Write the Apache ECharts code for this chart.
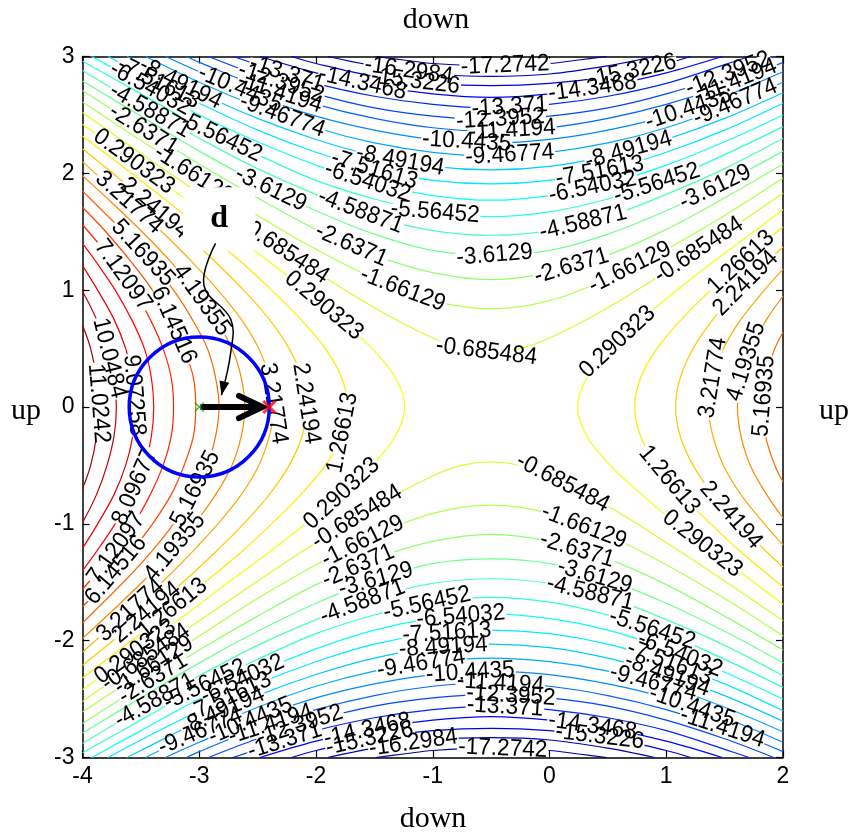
<!DOCTYPE html>
<html>
<head>
<meta charset="utf-8">
<script src="https://cdn.jsdelivr.net/npm/echarts@6/dist/echarts.min.js"></script>
<style>
html,body{margin:0;padding:0;background:#fff;}
#chart{width:851px;height:836px;}
</style>
</head>
<body>
<div id="chart"></div>
<script>
// Contour levels of the surface (30 levels, labelled inline)
const levels = [-17.2742, -16.2984, -15.3226, -14.3468, -13.371, -12.3952, -11.4194, -10.4435,
  -9.46774, -8.49194, -7.51613, -6.54032, -5.56452, -4.58871, -3.6129, -2.6371, -1.66129, -0.685484,
  0.290323, 1.26613, 2.24194, 3.21774, 4.19355, 5.16935, 6.14516, 7.12097, 8.09677, 9.07258, 10.0484, 11.0242];

// Colour limits of the jet colour scale
const colorMin = -18.25, colorMax = 12;

// Upper branches of the 18 negative levels (left to right)
const upperArcs = [
  [[-1.49,3],[-1.25,2.97],[-1,2.94],[-0.5,2.92],[0,2.94],[0.25,2.97],[0.49,3]],
  [[-1.90,3],[-1.5,2.92],[-1,2.85],[-0.5,2.83],[0,2.85],[0.5,2.92],[0.90,3]],
  [[-2.21,3],[-2,2.94],[-1.5,2.83],[-1,2.77],[-0.5,2.75],[0,2.77],[0.5,2.83],[1,2.94],[1.21,3]],
  [[-2.48,3],[-2,2.86],[-1.5,2.75],[-1,2.68],[-0.5,2.65],[0,2.68],[0.5,2.75],[1,2.86],[1.48,3]],
  [[-2.71,3],[-2.5,2.93],[-2,2.77],[-1.5,2.66],[-1,2.59],[-0.5,2.56],[0,2.59],[0.5,2.66],[1,2.77],[1.5,2.93],[1.71,3]],
  [[-2.92,3],[-2.5,2.84],[-2,2.68],[-1.5,2.56],[-1,2.49],[-0.5,2.46],[0,2.49],[0.5,2.56],[1,2.68],[1.5,2.84],[1.92,3]],
  [[-3.11,3],[-3,2.95],[-2.5,2.75],[-2,2.59],[-1.5,2.47],[-1,2.39],[-0.5,2.36],[0,2.39],[0.5,2.47],[1,2.59],[1.5,2.75],[2,2.95]],
  [[-3.29,3],[-3,2.87],[-2.5,2.66],[-2,2.49],[-1.5,2.37],[-1,2.29],[-0.5,2.26],[0,2.29],[0.5,2.37],[1,2.49],[1.5,2.66],[2,2.87]],
  [[-3.46,3],[-3,2.78],[-2.5,2.57],[-2,2.39],[-1.5,2.26],[-1,2.18],[-0.5,2.15],[0,2.18],[0.5,2.26],[1,2.39],[1.5,2.57],[2,2.78]],
  [[-3.62,3],[-3.5,2.94],[-3,2.69],[-2.5,2.47],[-2,2.29],[-1.5,2.15],[-1,2.06],[-0.5,2.03],[0,2.06],[0.5,2.15],[1,2.29],[1.5,2.47],[2,2.69]],
  [[-3.78,3],[-3.5,2.85],[-3,2.60],[-2.5,2.37],[-2,2.18],[-1.5,2.03],[-1,1.94],[-0.5,1.91],[0,1.94],[0.5,2.03],[1,2.18],[1.5,2.37],[2,2.60]],
  [[-3.92,3],[-3.5,2.77],[-3,2.50],[-2.5,2.27],[-2,2.07],[-1.5,1.91],[-1,1.81],[-0.5,1.77],[0,1.81],[0.5,1.91],[1,2.07],[1.5,2.27],[2,2.50]],
  [[-4,2.96],[-3.5,2.68],[-3,2.40],[-2.5,2.16],[-2,1.94],[-1.5,1.78],[-1,1.67],[-0.5,1.63],[0,1.67],[0.5,1.78],[1,1.94],[1.5,2.16],[2,2.40]],
  [[-4,2.88],[-3.5,2.58],[-3,2.30],[-2.5,2.04],[-2,1.82],[-1.5,1.63],[-1,1.51],[-0.5,1.47],[0,1.51],[0.5,1.63],[1,1.82],[1.5,2.04],[2,2.30]],
  [[-4,2.79],[-3.5,2.49],[-3,2.19],[-2.5,1.92],[-2,1.68],[-1.5,1.48],[-1,1.34],[-0.5,1.30],[0,1.34],[0.5,1.48],[1,1.68],[1.5,1.92],[2,2.19]],
  [[-4,2.71],[-3.5,2.39],[-3,2.08],[-2.5,1.79],[-2,1.52],[-1.5,1.30],[-1,1.15],[-0.5,1.09],[0,1.15],[0.5,1.30],[1,1.52],[1.5,1.79],[2,2.08]],
  [[-4,2.61],[-3.5,2.28],[-3,1.96],[-2.5,1.64],[-2,1.35],[-1.5,1.10],[-1,0.91],[-0.5,0.84],[0,0.91],[0.5,1.10],[1,1.35],[1.5,1.64],[2,1.96]],
  [[-4,2.52],[-3.5,2.17],[-3,1.83],[-2.5,1.49],[-2,1.16],[-1.5,0.85],[-1,0.59],[-0.75,0.50],[-0.5,0.47],[-0.25,0.50],[0,0.59],[0.5,0.85],[1,1.16],[1.5,1.49],[2,1.83]]
];

// Lower branches of the same 18 levels (left to right)
const lowerArcs = [
  [[-1.49,-3],[-1.25,-2.97],[-1,-2.94],[-0.5,-2.92],[0,-2.94],[0.25,-2.97],[0.49,-3]],
  [[-1.90,-3],[-1.5,-2.92],[-1,-2.85],[-0.5,-2.83],[0,-2.85],[0.5,-2.92],[0.90,-3]],
  [[-2.21,-3],[-2,-2.94],[-1.5,-2.83],[-1,-2.77],[-0.5,-2.75],[0,-2.77],[0.5,-2.83],[1,-2.94],[1.21,-3]],
  [[-2.48,-3],[-2,-2.86],[-1.5,-2.75],[-1,-2.68],[-0.5,-2.65],[0,-2.68],[0.5,-2.75],[1,-2.86],[1.48,-3]],
  [[-2.71,-3],[-2.5,-2.93],[-2,-2.77],[-1.5,-2.66],[-1,-2.59],[-0.5,-2.56],[0,-2.59],[0.5,-2.66],[1,-2.77],[1.5,-2.93],[1.71,-3]],
  [[-2.92,-3],[-2.5,-2.84],[-2,-2.68],[-1.5,-2.56],[-1,-2.49],[-0.5,-2.46],[0,-2.49],[0.5,-2.56],[1,-2.68],[1.5,-2.84],[1.92,-3]],
  [[-3.11,-3],[-3,-2.95],[-2.5,-2.75],[-2,-2.59],[-1.5,-2.47],[-1,-2.39],[-0.5,-2.36],[0,-2.39],[0.5,-2.47],[1,-2.59],[1.5,-2.75],[2,-2.95]],
  [[-3.29,-3],[-3,-2.87],[-2.5,-2.66],[-2,-2.49],[-1.5,-2.37],[-1,-2.29],[-0.5,-2.26],[0,-2.29],[0.5,-2.37],[1,-2.49],[1.5,-2.66],[2,-2.87]],
  [[-3.46,-3],[-3,-2.78],[-2.5,-2.57],[-2,-2.39],[-1.5,-2.26],[-1,-2.18],[-0.5,-2.15],[0,-2.18],[0.5,-2.26],[1,-2.39],[1.5,-2.57],[2,-2.78]],
  [[-3.62,-3],[-3.5,-2.94],[-3,-2.69],[-2.5,-2.47],[-2,-2.29],[-1.5,-2.15],[-1,-2.06],[-0.5,-2.03],[0,-2.06],[0.5,-2.15],[1,-2.29],[1.5,-2.47],[2,-2.69]],
  [[-3.78,-3],[-3.5,-2.85],[-3,-2.60],[-2.5,-2.37],[-2,-2.18],[-1.5,-2.03],[-1,-1.94],[-0.5,-1.91],[0,-1.94],[0.5,-2.03],[1,-2.18],[1.5,-2.37],[2,-2.60]],
  [[-3.92,-3],[-3.5,-2.77],[-3,-2.50],[-2.5,-2.27],[-2,-2.07],[-1.5,-1.91],[-1,-1.81],[-0.5,-1.77],[0,-1.81],[0.5,-1.91],[1,-2.07],[1.5,-2.27],[2,-2.50]],
  [[-4,-2.96],[-3.5,-2.68],[-3,-2.40],[-2.5,-2.16],[-2,-1.94],[-1.5,-1.78],[-1,-1.67],[-0.5,-1.63],[0,-1.67],[0.5,-1.78],[1,-1.94],[1.5,-2.16],[2,-2.40]],
  [[-4,-2.88],[-3.5,-2.58],[-3,-2.30],[-2.5,-2.04],[-2,-1.82],[-1.5,-1.63],[-1,-1.51],[-0.5,-1.47],[0,-1.51],[0.5,-1.63],[1,-1.82],[1.5,-2.04],[2,-2.30]],
  [[-4,-2.79],[-3.5,-2.49],[-3,-2.19],[-2.5,-1.92],[-2,-1.68],[-1.5,-1.48],[-1,-1.34],[-0.5,-1.30],[0,-1.34],[0.5,-1.48],[1,-1.68],[1.5,-1.92],[2,-2.19]],
  [[-4,-2.71],[-3.5,-2.39],[-3,-2.08],[-2.5,-1.79],[-2,-1.52],[-1.5,-1.30],[-1,-1.15],[-0.5,-1.09],[0,-1.15],[0.5,-1.30],[1,-1.52],[1.5,-1.79],[2,-2.08]],
  [[-4,-2.61],[-3.5,-2.28],[-3,-1.96],[-2.5,-1.64],[-2,-1.35],[-1.5,-1.10],[-1,-0.91],[-0.5,-0.84],[0,-0.91],[0.5,-1.10],[1,-1.35],[1.5,-1.64],[2,-1.96]],
  [[-4,-2.52],[-3.5,-2.17],[-3,-1.83],[-2.5,-1.49],[-2,-1.16],[-1.5,-0.85],[-1,-0.59],[-0.75,-0.50],[-0.5,-0.47],[-0.25,-0.50],[0,-0.59],[0.5,-0.85],[1,-1.16],[1.5,-1.49],[2,-1.83]]
];

// Left branches of the 12 positive levels (bottom to top)
const leftArcs = [
  [[-4,-2.42],[-3.42,-2],[-3.08,-1.75],[-2.75,-1.5],[-2.41,-1.25],[-2.09,-1],[-1.79,-0.75],[-1.52,-0.5],[-1.32,-0.25],[-1.24,0],[-1.32,0.25],[-1.52,0.5],[-1.79,0.75],[-2.09,1],[-2.41,1.25],[-2.75,1.5],[-3.08,1.75],[-3.42,2],[-4,2.42]],
  [[-4,-2.32],[-3.58,-2],[-3.26,-1.75],[-2.95,-1.5],[-2.65,-1.25],[-2.38,-1],[-2.13,-0.75],[-1.92,-0.5],[-1.78,-0.25],[-1.73,0],[-1.78,0.25],[-1.92,0.5],[-2.13,0.75],[-2.38,1],[-2.65,1.25],[-2.95,1.5],[-3.26,1.75],[-3.58,2],[-4,2.32]],
  [[-4,-2.21],[-3.74,-2],[-3.44,-1.75],[-3.14,-1.5],[-2.87,-1.25],[-2.62,-1],[-2.40,-0.75],[-2.23,-0.5],[-2.12,-0.25],[-2.08,0],[-2.12,0.25],[-2.23,0.5],[-2.40,0.75],[-2.62,1],[-2.87,1.25],[-3.14,1.5],[-3.44,1.75],[-3.74,2],[-4,2.21]],
  [[-4,-2.10],[-3.89,-2],[-3.60,-1.75],[-3.32,-1.5],[-3.07,-1.25],[-2.84,-1],[-2.64,-0.75],[-2.49,-0.5],[-2.40,-0.25],[-2.36,0],[-2.40,0.25],[-2.49,0.5],[-2.64,0.75],[-2.84,1],[-3.07,1.25],[-3.32,1.5],[-3.60,1.75],[-3.89,2],[-4,2.10]],
  [[-4,-1.98],[-3.75,-1.75],[-3.49,-1.5],[-3.25,-1.25],[-3.04,-1],[-2.86,-0.75],[-2.72,-0.5],[-2.64,-0.25],[-2.61,0],[-2.64,0.25],[-2.72,0.5],[-2.86,0.75],[-3.04,1],[-3.25,1.25],[-3.49,1.5],[-3.75,1.75],[-4,1.98]],
  [[-4,-1.85],[-3.90,-1.75],[-3.65,-1.5],[-3.42,-1.25],[-3.22,-1],[-3.06,-0.75],[-2.93,-0.5],[-2.86,-0.25],[-2.83,0],[-2.86,0.25],[-2.93,0.5],[-3.06,0.75],[-3.22,1],[-3.42,1.25],[-3.65,1.5],[-3.90,1.75],[-4,1.85]],
  [[-4,-1.71],[-3.80,-1.5],[-3.59,-1.25],[-3.40,-1],[-3.24,-0.75],[-3.13,-0.5],[-3.05,-0.25],[-3.03,0],[-3.05,0.25],[-3.13,0.5],[-3.24,0.75],[-3.40,1],[-3.59,1.25],[-3.80,1.5],[-4,1.71]],
  [[-4,-1.56],[-3.74,-1.25],[-3.56,-1],[-3.42,-0.75],[-3.31,-0.5],[-3.24,-0.25],[-3.22,0],[-3.24,0.25],[-3.31,0.5],[-3.42,0.75],[-3.56,1],[-3.74,1.25],[-4,1.56]],
  [[-4,-1.40],[-3.89,-1.25],[-3.72,-1],[-3.58,-0.75],[-3.47,-0.5],[-3.41,-0.25],[-3.39,0],[-3.41,0.25],[-3.47,0.5],[-3.58,0.75],[-3.72,1],[-3.89,1.25],[-4,1.40]],
  [[-4,-1.21],[-3.87,-1],[-3.73,-0.75],[-3.63,-0.5],[-3.57,-0.25],[-3.55,0],[-3.57,0.25],[-3.63,0.5],[-3.73,0.75],[-3.87,1],[-4,1.21]],
  [[-4,-0.99],[-3.88,-0.75],[-3.79,-0.5],[-3.73,-0.25],[-3.71,0],[-3.73,0.25],[-3.79,0.5],[-3.88,0.75],[-4,0.99]],
  [[-4,-0.70],[-3.93,-0.5],[-3.88,-0.25],[-3.86,0],[-3.88,0.25],[-3.93,0.5],[-4,0.70]]
];

// Right branches of the six lowest positive levels (bottom to top)
const rightArcs = [
  [[2,-1.69],[1.75,-1.5],[1.41,-1.25],[1.09,-1],[0.79,-0.75],[0.52,-0.5],[0.32,-0.25],[0.24,0],[0.32,0.25],[0.52,0.5],[0.79,0.75],[1.09,1],[1.41,1.25],[1.75,1.5],[2,1.69]],
  [[2,-1.54],[1.65,-1.25],[1.38,-1],[1.13,-0.75],[0.92,-0.5],[0.78,-0.25],[0.73,0],[0.78,0.25],[0.92,0.5],[1.13,0.75],[1.38,1],[1.65,1.25],[2,1.54]],
  [[2,-1.37],[1.87,-1.25],[1.62,-1],[1.40,-0.75],[1.23,-0.5],[1.12,-0.25],[1.08,0],[1.12,0.25],[1.23,0.5],[1.40,0.75],[1.62,1],[1.87,1.25],[2,1.37]],
  [[2,-1.18],[1.84,-1],[1.64,-0.75],[1.49,-0.5],[1.40,-0.25],[1.36,0],[1.40,0.25],[1.49,0.5],[1.64,0.75],[1.84,1],[2,1.18]],
  [[2,-0.95],[1.86,-0.75],[1.72,-0.5],[1.64,-0.25],[1.61,0],[1.64,0.25],[1.72,0.5],[1.86,0.75],[2,0.95]],
  [[2,-0.64],[1.93,-0.5],[1.85,-0.25],[1.83,0],[1.85,0.25],[1.93,0.5],[2,0.64]]
];

// Inline contour labels: [level, approximate x, approximate y]
const contourLabels = [
  [-17.2742,-0.38,2.92],[-16.2984,-1.21,2.85],[-15.3226,-1.15,2.76],[-14.3468,-1.60,2.77],
  [-13.371,-2.25,2.85],[-12.3952,-2.30,2.77],[-11.4194,-2.31,2.68],[-10.4435,-2.65,2.72],
  [-9.46774,-2.29,2.49],[-8.49194,-3.16,2.77],[-7.51613,-3.35,2.77],[-6.54032,-3.42,2.72],
  [-5.56452,-2.82,2.31],[-4.58871,-3.42,2.54],[-2.6371,-3.48,2.37],[-1.66129,-3.05,1.99],
  [-3.6129,-2.39,1.86],[-0.685484,-2.27,1.34],[-4.58871,-1.62,1.67],[-5.56452,-0.98,1.67],
  [-6.54032,-1.56,1.92],[-7.51613,-1.50,2.03],[-8.49194,-1.28,2.10],[-10.4435,-0.71,2.26],
  [-9.46774,-0.34,2.15],[-11.4194,-0.32,2.37],[-12.3952,-0.42,2.46],[-13.371,-0.34,2.56],
  [-2.6371,-1.70,1.38],[-1.66129,-1.26,1.00],[-3.6129,-0.47,1.30],[-0.685484,-0.54,0.47],
  [-1.66129,0.69,1.19],[-2.6371,0.19,1.20],[-4.58871,0.29,1.57],[-3.6129,1.42,1.88],
  [-5.56452,0.92,1.91],[-6.54032,0.37,1.88],[-7.51613,0.43,2.02],[-8.49194,0.68,2.19],
  [-9.46774,1.59,2.61],[-10.4435,1.19,2.55],[-11.4194,1.59,2.79],[-12.3952,1.53,2.85],
  [-15.3226,0.71,2.88],[-14.3468,0.37,2.72],[-0.685484,1.28,1.34],
  [-0.685484,0.12,-0.64],[-1.66129,0.30,-1.01],[-2.6371,0.24,-1.21],[-3.6129,0.39,-1.44],
  [-4.58871,0.35,-1.59],[-5.56452,0.88,-1.90],[-6.54032,1.12,-2.11],[-7.51613,1.03,-2.19],
  [-8.49194,1.01,-2.29],[-9.46774,0.89,-2.36],[-10.4435,1.22,-2.57],[-11.4194,1.48,-2.75],
  [-14.3468,0.37,-2.72],[-15.3226,0.43,-2.82],[-17.2742,-0.40,-2.92],[-16.2984,-1.17,-2.85],
  [-15.3226,-1.54,-2.84],[-14.3468,-1.56,-2.76],[-13.371,-0.38,-2.56],[-12.3952,-0.33,-2.46],
  [-11.4194,-0.42,-2.36],[-10.4435,-0.68,-2.26],[-9.46774,-1.10,-2.19],[-8.49194,-0.91,-2.05],
  [-7.51613,-0.88,-1.91],[-6.54032,-0.76,-1.78],[-5.56452,-1.05,-1.67],[-4.58871,-1.60,-1.67],
  [-3.6129,-1.49,-1.47],[-2.6371,-1.64,-1.36],[-1.66129,-1.60,-1.15],[-0.685484,-1.65,-0.94],
  [-0.685484,-3.46,-2.14],[-1.66129,-3.39,-2.21],[-2.6371,-3.40,-2.32],[-4.58871,-3.38,-2.51],
  [-5.56452,-2.95,-2.38],[-6.54032,-2.63,-2.33],[-7.51613,-2.74,-2.48],[-8.49194,-2.80,-2.60],
  [-9.46774,-2.99,-2.78],[-10.4435,-2.56,-2.69],[-11.4194,-2.39,-2.71],[-12.3952,-2.14,-2.72],
  [-13.371,-2.27,-2.85],
  [0.290323,-3.56,2.10],[3.21774,-3.60,1.75],[2.24194,-3.38,1.70],[5.16935,-3.48,1.32],
  [4.19355,-2.97,0.92],[7.12097,-3.65,1.13],[6.14516,-3.22,0.70],[10.0484,-3.76,0.42],
  [11.0242,-3.86,0.03],[9.07258,-3.55,0.10],[8.09677,-3.55,-0.68],[5.16935,-3.03,-0.70],
  [3.21774,-2.36,0.03],[2.24194,-2.08,0.03],[1.26613,-1.77,-0.22],[0.290323,-1.93,0.87],
  [0.290323,-1.78,-0.74],[7.12097,-3.71,-1.21],[6.14516,-3.71,-1.40],[4.19355,-3.21,-1.20],
  [3.21774,-3.59,-1.74],[2.24194,-3.45,-1.76],[1.26613,-3.23,-1.72],[0.290323,-3.55,-2.09],
  [0.290323,0.58,0.56],[1.26613,1.64,1.24],[2.24194,1.68,1.06],[3.21774,1.40,0.25],
  [4.19355,1.68,0.39],[5.16935,1.87,0.09],[1.26613,1.02,-0.63],[2.24194,1.55,-0.93],
  [0.290323,1.31,-1.17]
];

// Trust region around the current iterate, the step d and the trial point
const trustRegion = [[-3, 0, 0.6]];
const currentPoint = [[-3, 0]];
const trialPoint = [[-2.4, 0]];
const stepShaft = [[-2.99, 0], [-2.46, 0]];
const stepHead = [[-2.66, 0.095], [-2.46, 0], [-2.66, -0.095]];

// Callout "d": box corners and leader path
const noteBox = [[-3.14, 1.88], [-2.52, 1.34]];
const noteLeader = [[-2.86, 1.40], [-2.96, 1.04], [-2.73, 0.75], [-2.73, 0.47], [-2.81, 0.10]];

const xTicks = [-4, -3, -2, -1, 0, 1, 2];
const yTicks = [-3, -2, -1, 0, 1, 2, 3];

// ---------------------------------------------------------------
function jet(v) {
  const t = (v - colorMin) / (colorMax - colorMin);
  const c = u => Math.round(255 * Math.max(0, Math.min(1, u)));
  return 'rgb(' + c(1.5 - Math.abs(4 * t - 3)) + ',' + c(1.5 - Math.abs(4 * t - 2)) + ',' + c(1.5 - Math.abs(4 * t - 1)) + ')';
}

function branchesOf(level) {
  const i = levels.indexOf(level);
  if (i < 18) return [upperArcs[i], lowerArcs[i]];
  const j = i - 18;
  return rightArcs[j] ? [leftArcs[j], rightArcs[j]] : [leftArcs[j]];
}

// snap a label onto its contour and align it with the local direction
function placeLabel(entry) {
  const v = entry[0], lx = entry[1], ly = entry[2];
  let best = null;
  branchesOf(v).forEach(b => {
    for (let s = 0; s < b.length - 1; s++) {
      const x1 = b[s][0], y1 = b[s][1], x2 = b[s + 1][0], y2 = b[s + 1][1];
      const dx = x2 - x1, dy = y2 - y1;
      let t = ((lx - x1) * dx + (ly - y1) * dy) / (dx * dx + dy * dy);
      t = Math.max(0, Math.min(1, t));
      const px = x1 + t * dx, py = y1 + t * dy;
      const d = (px - lx) * (px - lx) + (py - ly) * (py - ly);
      if (!best || d < best.d) best = { d: d, px: px, py: py, ang: Math.atan2(dy, dx) * 180 / Math.PI };
    }
  });
  let a = best.ang;
  if (a > 90) a -= 180;
  if (a <= -90) a += 180;
  return [best.px, best.py, a];
}

const labelFont = '24px "Liberation Sans", Arial, sans-serif';
const labelSqueeze = 0.94;
const measureCtx = document.createElement('canvas').getContext('2d');
measureCtx.font = labelFont;
const labelItems = contourLabels.map(placeLabel);

const chart = echarts.init(document.getElementById('chart'));
const series = [];

function addArc(points, level) {
  series.push({
    type: 'line', data: points, symbol: 'none', smooth: 0.35, silent: true, clip: true,
    lineStyle: { color: jet(level), width: 1.2 }, z: 2
  });
}
upperArcs.forEach((a, i) => addArc(a, levels[i]));
lowerArcs.forEach((a, i) => addArc(a, levels[i]));
leftArcs.forEach((a, i) => addArc(a, levels[18 + i]));
rightArcs.forEach((a, i) => addArc(a, levels[18 + i]));

// gaps in the contour lines under each label
series.push({
  type: 'custom', silent: true, z: 4, clip: false, data: labelItems,
  renderItem(params, api) {
    const p = api.coord([api.value(0), api.value(1)]);
    const w = measureCtx.measureText(String(contourLabels[params.dataIndex][0])).width * labelSqueeze;
    return {
      type: 'rect', x: p[0], y: p[1], rotation: api.value(2) * Math.PI / 180,
      shape: { x: -w / 2 - 1, y: -5, width: w + 2, height: 10 },
      style: { fill: '#ffffff' }
    };
  }
});
// label texts
series.push({
  type: 'custom', silent: true, z: 5, clip: false, data: labelItems,
  renderItem(params, api) {
    const p = api.coord([api.value(0), api.value(1)]);
    return {
      type: 'text', x: p[0], y: p[1], rotation: api.value(2) * Math.PI / 180, scaleX: labelSqueeze,
      style: {
        text: String(contourLabels[params.dataIndex][0]), font: labelFont, fill: '#000',
        textAlign: 'center', textVerticalAlign: 'middle', align: 'center', verticalAlign: 'middle'
      }
    };
  }
});

// trust-region circle
series.push({
  type: 'custom', silent: true, z: 6, clip: false, data: trustRegion,
  renderItem(params, api) {
    const c = api.coord([api.value(0), api.value(1)]);
    const r = api.size([api.value(2), 0])[0];
    return { type: 'circle', shape: { cx: c[0], cy: c[1], r: r }, style: { fill: 'none', stroke: '#0000ff', lineWidth: 3.5 } };
  }
});
// step arrow
series.push({ type: 'line', data: stepShaft, symbol: 'none', silent: true, z: 7, lineStyle: { color: '#000', width: 6, cap: 'butt' } });
series.push({ type: 'line', data: stepHead, symbol: 'none', silent: true, z: 7, lineStyle: { color: '#000', width: 6, cap: 'round', join: 'miter' } });
// current iterate and trial point
series.push({
  type: 'scatter', data: currentPoint, silent: true, z: 8, symbol: 'path://M0,0L10,10M10,0L0,10', symbolSize: 9,
  itemStyle: { color: 'transparent', borderColor: '#00a000', borderWidth: 1.2 }
});
series.push({
  type: 'scatter', data: trialPoint, silent: true, z: 8, symbol: 'path://M0,0L10,10M10,0L0,10', symbolSize: 12,
  itemStyle: { color: 'transparent', borderColor: '#ff0000', borderWidth: 3 }
});
// callout "d"
series.push({
  type: 'custom', silent: true, z: 9, clip: false, data: [0],
  renderItem(params, api) {
    const a = api.coord(noteBox[0]), b = api.coord(noteBox[1]);
    const pts = noteLeader.map(p => api.coord(p));
    const end = pts[pts.length - 1], prev = pts[pts.length - 2];
    const ang = Math.atan2(end[1] - prev[1], end[0] - prev[0]);
    const L = 14, W = 5;
    const bx = end[0] - L * Math.cos(ang), by = end[1] - L * Math.sin(ang);
    const head = [end, [bx + W * Math.sin(ang), by - W * Math.cos(ang)], [bx - W * Math.sin(ang), by + W * Math.cos(ang)]];
    return {
      type: 'group', children: [
        { type: 'rect', shape: { x: a[0], y: a[1], width: b[0] - a[0], height: b[1] - a[1] }, style: { fill: '#fff' } },
        { type: 'text', x: (a[0] + b[0]) / 2, y: (a[1] + b[1]) / 2, style: { text: 'd', font: 'bold 32px "Liberation Serif", "Times New Roman", serif', fill: '#000', textAlign: 'center', textVerticalAlign: 'middle', align: 'center', verticalAlign: 'middle' } },
        { type: 'polyline', shape: { points: pts, smooth: 0.4 }, style: { stroke: '#000', lineWidth: 1.5, fill: 'none' } },
        { type: 'polygon', shape: { points: head }, style: { fill: '#000' } }
      ]
    };
  }
});

const axisCommon = {
  type: 'value', interval: 1,
  axisLine: { show: true, onZero: false, lineStyle: { color: '#000', width: 1.5 } },
  axisTick: { show: true, inside: true, length: 7, lineStyle: { color: '#000', width: 1.2 } },
  splitLine: { show: false }
};
const tickFont = { color: '#000', fontSize: 23, fontFamily: '"Liberation Sans", Arial, sans-serif' };
const serifFont = '30px "Liberation Serif", "Times New Roman", serif';
function caption(text, x, y) {
  return { type: 'text', x: x, y: y, style: { text: text, font: serifFont, fill: '#000', textAlign: 'center', textVerticalAlign: 'middle', align: 'center', verticalAlign: 'middle' } };
}

chart.setOption({
  animation: false,
  backgroundColor: '#fff',
  grid: { left: 82.5, top: 56.5, width: 700.5, height: 701, outerBoundsMode: 'none', containLabel: false },
  xAxis: [
    Object.assign({}, axisCommon, { position: 'bottom', min: xTicks[0], max: xTicks[xTicks.length - 1],
      axisLabel: Object.assign({ margin: 8 }, tickFont) }),
    Object.assign({}, axisCommon, { position: 'top', min: xTicks[0], max: xTicks[xTicks.length - 1], axisLabel: { show: false } })
  ],
  yAxis: [
    Object.assign({}, axisCommon, { position: 'left', min: yTicks[0], max: yTicks[yTicks.length - 1],
      axisLabel: Object.assign({ margin: 8 }, tickFont) }),
    Object.assign({}, axisCommon, { position: 'right', min: yTicks[0], max: yTicks[yTicks.length - 1], axisLabel: { show: false } })
  ],
  graphic: [
    caption('down', 436, 20),
    caption('down', 433, 819),
    caption('up', 26, 411),
    caption('up', 834, 411)
  ],
  series: series
});
</script>
</body>
</html>
